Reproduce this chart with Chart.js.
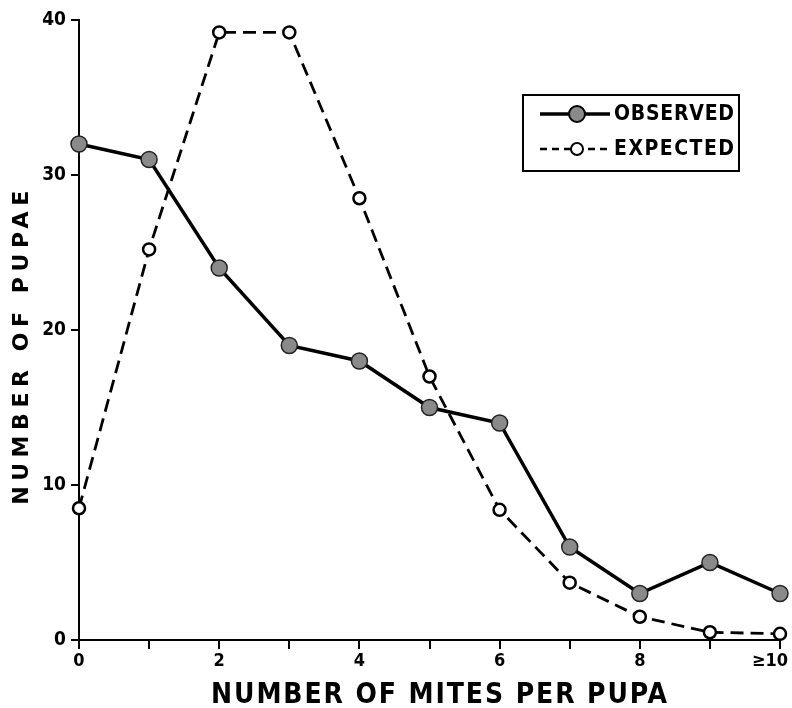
<!DOCTYPE html>
<html>
<head>
<meta charset="utf-8">
<script src="https://cdn.jsdelivr.net/npm/chart.js@4"></script>
<style>
  html, body { margin: 0; padding: 0; background: #fff; }
  #wrap { width: 792px; height: 708px; }
</style>
</head>
<body>
<div id="wrap"><canvas id="chartMites" width="792" height="708"></canvas></div>
<script>
// categories: number of mites per pupa
const mites = ['0', '1', '2', '3', '4', '5', '6', '7', '8', '9', '≥10'];
const observed = [32, 31, 24, 19, 18, 15, 14, 6, 3, 5, 3];
const expected = [8.5, 25.2, 39.2, 39.2, 28.5, 17.0, 8.4, 3.7, 1.5, 0.5, 0.4];
const yTicks = [0, 10, 20, 30, 40];
const xTitle = 'NUMBER OF MITES PER PUPA';
const yTitle = 'NUMBER OF PUPAE';

const FONT = "'DejaVu Sans Condensed', 'DejaVu Sans', sans-serif";
const FONT_WIDE = "'DejaVu Sans', sans-serif";

// spread text so it covers a given width, like the lettering of the original
function spacedText(ctx, text, font, width) {
   ctx.font = font;
   ctx.letterSpacing = '0px';
   const w = ctx.measureText(text).width;
   ctx.letterSpacing = ((width - w) / (text.length - 1)) + 'px';
   return ctx.measureText(text).width;
}

// axis titles and boxed legend, drawn like the original figure
const figureText = {
   id: 'figureText',
   beforeDraw: function (chart) {
      // keep the last x label ("≥10") inside the page, a bit left of its tick
      const scale = chart.scales.x;
      const items = scale.getLabelItems(chart.chartArea);
      const last = items[items.length - 1];
      if (last && !last.shifted) {
         last.options.translation[0] -= 10;
         last.shifted = true;
      }
   },
   afterDraw: function (chart) {
      const ctx = chart.ctx;
      ctx.save();
      ctx.fillStyle = '#000';
      ctx.textAlign = 'left';
      ctx.textBaseline = 'alphabetic';

      // x title
      let w = spacedText(ctx, xTitle, 'bold 28px ' + FONT, 456);
      ctx.fillText(xTitle, 440 - w / 2, 703);

      // y title
      ctx.save();
      ctx.translate(28, 345);
      ctx.rotate(-Math.PI / 2);
      w = spacedText(ctx, yTitle, 'bold 22px ' + FONT_WIDE, 314);
      ctx.fillText(yTitle, -w / 2, 0);
      ctx.restore();
      ctx.letterSpacing = '0px';

      // legend
      ctx.strokeStyle = '#000';
      ctx.lineWidth = 2;
      ctx.strokeRect(523, 95, 216, 76);
      const rows = [
         { text: 'OBSERVED', y: 114, dash: [], width: 3.5, fill: '#8a8a8a', r: 8 },
         { text: 'EXPECTED', y: 149, dash: [7, 5], width: 2.5, fill: '#fff', r: 6 }
      ];
      rows.forEach(row => {
         ctx.setLineDash(row.dash);
         ctx.lineWidth = row.width;
         ctx.beginPath();
         ctx.moveTo(540, row.y);
         ctx.lineTo(610, row.y);
         ctx.stroke();
         ctx.setLineDash([]);
         ctx.beginPath();
         ctx.arc(577, row.y, row.r, 0, Math.PI * 2);
         ctx.fillStyle = row.fill;
         ctx.fill();
         ctx.lineWidth = 2;
         ctx.stroke();
         ctx.fillStyle = '#000';
         ctx.textBaseline = 'middle';
         spacedText(ctx, row.text, 'bold 21px ' + FONT, 120);
         ctx.fillText(row.text, 614, row.y + 1);
      });
      ctx.restore();
   }
};

const ctx = document.getElementById('chartMites').getContext('2d');
const chartMites = new Chart(ctx, {
   type: 'line',
   data: {
      labels: mites,
      datasets: [{
         label: 'OBSERVED',
         data: observed,
         borderColor: '#000',
         borderWidth: 3.5,
         pointBackgroundColor: '#8a8a8a',
         pointBorderColor: '#222',
         pointBorderWidth: 1.5,
         pointRadius: 8,
         tension: 0,
         clip: false,
      }, {
         label: 'EXPECTED',
         data: expected,
         borderColor: '#000',
         borderWidth: 2.8,
         borderDash: [13, 7],
         pointBackgroundColor: '#fff',
         pointBorderColor: '#000',
         pointBorderWidth: 2.5,
         pointRadius: 6,
         tension: 0,
         clip: false,
      }]
   },
   options: {
      responsive: false,
      animation: false,
      layout: {
         padding: { top: 20, right: 12, left: 0, bottom: 0 }
      },
      scales: {
         x: {
            offset: false,
            border: { display: true, color: '#000', width: 2 },
            grid: {
               display: true,
               drawOnChartArea: false,
               drawTicks: true,
               tickLength: 9,
               color: '#000',
               lineWidth: 2,
            },
            ticks: {
               autoSkip: false,
               maxRotation: 0,
               color: '#000',
               padding: 2,
               font: { family: FONT, size: 18, weight: 'bold' },
               callback: function (value, index) {
                  return index % 2 === 0 ? mites[index] : '';
               }
            },
            afterFit: function (scale) {
               scale.height = 68;
               scale.paddingRight = 0;
            }
         },
         y: {
            min: 0,
            max: 40,
            border: { display: true, color: '#000', width: 2 },
            grid: {
               display: true,
               drawOnChartArea: false,
               drawTicks: true,
               tickLength: 8,
               color: '#000',
               lineWidth: 2,
            },
            afterBuildTicks: function (scale) {
               scale.ticks = yTicks.map(v => ({ value: v }));
            },
            ticks: {
               color: '#000',
               padding: 5,
               font: { family: FONT, size: 19, weight: 'bold' },
            },
            afterFit: function (scale) {
               scale.width = 79;
            }
         }
      },
      plugins: {
         legend: { display: false },
         tooltip: { enabled: false },
      }
   },
   plugins: [figureText]
});
</script>
</body>
</html>
